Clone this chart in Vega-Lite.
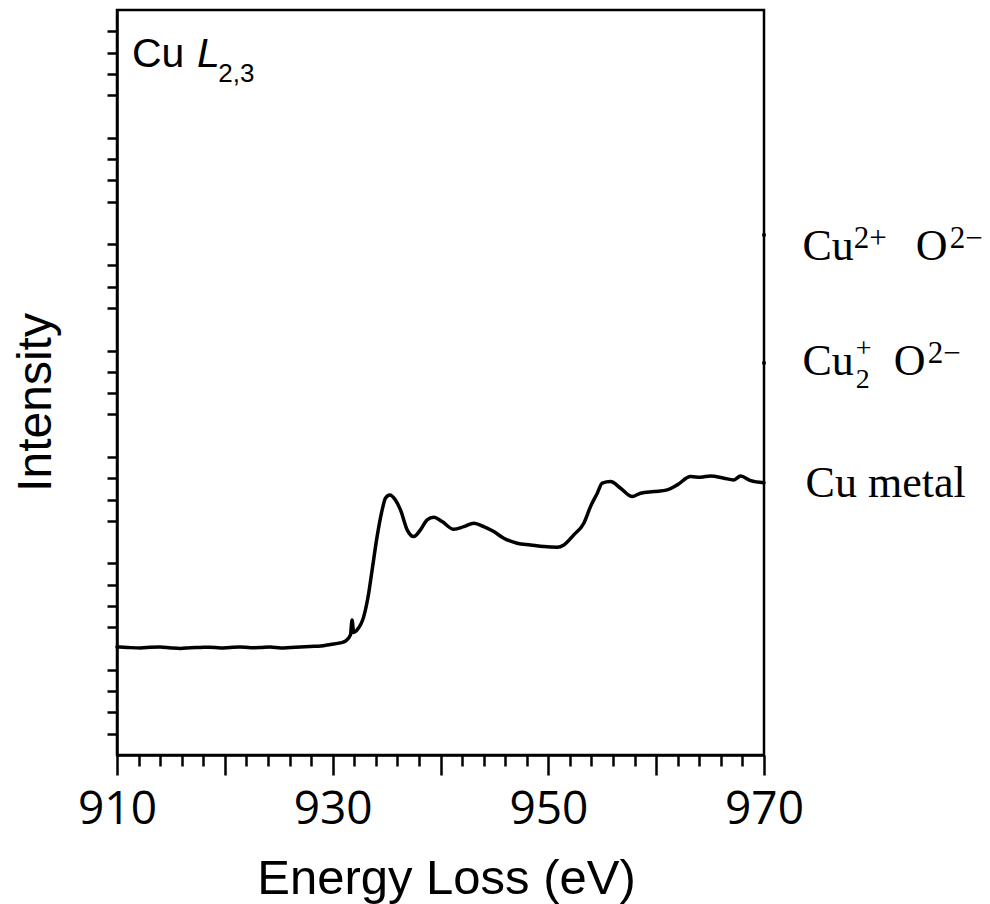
{
  "$schema": "https://vega.github.io/schema/vega-lite/v6.json",
  "width": 647,
  "height": 745,
  "autosize": "none",
  "padding": {"left": 117, "top": 10, "right": 226, "bottom": 149},
  "background": "white",
  "config": {
    "view": {"stroke": "black", "strokeWidth": 2.5},
    "axis": {
      "domainColor": "black",
      "domainWidth": 2.5,
      "tickColor": "black",
      "tickWidth": 2.5,
      "grid": false,
      "labelColor": "black",
      "titleColor": "black"
    }
  },
  "datasets": {
    "spectrum": [
      {"E": 910.0, "I": 1.015}, {"E": 911.0, "I": 1.010}, {"E": 912.2, "I": 1.006},
      {"E": 913.1, "I": 1.012}, {"E": 914.0, "I": 1.015}, {"E": 915.0, "I": 1.006},
      {"E": 915.9, "I": 1.001}, {"E": 916.8, "I": 1.008}, {"E": 917.7, "I": 1.010},
      {"E": 918.6, "I": 1.013}, {"E": 919.6, "I": 1.006}, {"E": 920.5, "I": 1.011},
      {"E": 921.4, "I": 1.015}, {"E": 922.4, "I": 1.008}, {"E": 923.3, "I": 1.010},
      {"E": 924.2, "I": 1.014}, {"E": 925.2, "I": 1.006}, {"E": 926.1, "I": 1.011},
      {"E": 927.0, "I": 1.015}, {"E": 927.9, "I": 1.020}, {"E": 928.9, "I": 1.024},
      {"E": 929.8, "I": 1.039}, {"E": 930.7, "I": 1.053}, {"E": 931.2, "I": 1.071},
      {"E": 931.65, "I": 1.128}, {"E": 931.8, "I": 1.269}, {"E": 931.95, "I": 1.150},
      {"E": 932.27, "I": 1.175}, {"E": 932.88, "I": 1.300}, {"E": 933.34, "I": 1.520},
      {"E": 933.66, "I": 1.739}, {"E": 934.12, "I": 2.052}, {"E": 934.59, "I": 2.303},
      {"E": 934.89, "I": 2.413}, {"E": 935.29, "I": 2.444}, {"E": 935.82, "I": 2.397},
      {"E": 936.29, "I": 2.303}, {"E": 936.91, "I": 2.115}, {"E": 937.52, "I": 2.052},
      {"E": 938.14, "I": 2.115}, {"E": 938.76, "I": 2.209}, {"E": 939.37, "I": 2.234},
      {"E": 940.15, "I": 2.193}, {"E": 941.23, "I": 2.121}, {"E": 942.16, "I": 2.146},
      {"E": 943.09, "I": 2.178}, {"E": 944.01, "I": 2.146}, {"E": 944.94, "I": 2.099},
      {"E": 945.87, "I": 2.037}, {"E": 947.11, "I": 1.990}, {"E": 948.35, "I": 1.974},
      {"E": 949.58, "I": 1.958}, {"E": 950.82, "I": 1.952}, {"E": 951.44, "I": 1.974},
      {"E": 952.36, "I": 2.068}, {"E": 953.29, "I": 2.178}, {"E": 953.91, "I": 2.334},
      {"E": 954.54, "I": 2.460}, {"E": 955.0, "I": 2.554}, {"E": 955.77, "I": 2.569},
      {"E": 956.7, "I": 2.507}, {"E": 957.78, "I": 2.428}, {"E": 958.55, "I": 2.460},
      {"E": 959.79, "I": 2.475}, {"E": 961.03, "I": 2.491}, {"E": 961.96, "I": 2.538},
      {"E": 963.19, "I": 2.616}, {"E": 964.12, "I": 2.610}, {"E": 965.05, "I": 2.622},
      {"E": 966.28, "I": 2.601}, {"E": 967.21, "I": 2.585}, {"E": 967.83, "I": 2.622},
      {"E": 968.76, "I": 2.578}, {"E": 970.0, "I": 2.559}
    ],
    "traceEnds": [
      {"E": 970.0, "I": 4.887},
      {"E": 970.0, "I": 3.684}
    ],
    "phases": [
      {"E": 973.56, "I": 4.652, "piece": "Cu", "role": "main"},
      {"E": 978.32, "I": 4.765, "piece": "2+", "role": "script"},
      {"E": 984.07, "I": 4.652, "piece": "O", "role": "main"},
      {"E": 987.22, "I": 4.765, "piece": "2−", "role": "script"},
      {"E": 973.56, "I": 3.571, "piece": "Cu", "role": "main"},
      {"E": 978.5, "I": 3.449, "piece": "2", "role": "stack"},
      {"E": 978.5, "I": 3.741, "piece": "+", "role": "stack"},
      {"E": 982.03, "I": 3.571, "piece": "O", "role": "main"},
      {"E": 985.19, "I": 3.681, "piece": "2−", "role": "script"},
      {"E": 973.86, "I": 2.425, "piece": "Cu metal", "role": "main"}
    ],
    "edgeName": [
      {"E": 911.39, "I": 6.469, "part": "Cu", "kind": "element"},
      {"E": 917.42, "I": 6.469, "part": "L", "kind": "edge"},
      {"E": 919.4, "I": 6.325, "part": "2,3", "kind": "sub"}
    ]
  },
  "encoding": {
    "x": {
      "field": "E",
      "type": "quantitative",
      "scale": {"domain": [910, 970], "nice": false, "zero": false},
      "axis": {
        "values": [910, 912, 914, 916, 918, 920, 922, 924, 926, 928, 930, 932, 934, 936, 938, 940, 942, 944, 946, 948, 950, 952, 954, 956, 958, 960, 962, 964, 966, 968, 970],
        "tickSize": {"condition": {"test": "datum.value % 10 === 0", "value": 20}, "value": 11},
        "labelExpr": "datum.value % 20 === 10 ? datum.label : ''",
        "labelFont": "Open Sans",
        "labelFontSize": 46,
        "labelPadding": 12,
        "labelFlush": false,
        "labelOverlap": false,
        "title": "Energy Loss (eV)",
        "titleFont": "Liberation Sans",
        "titleFontSize": 49,
        "titleFontWeight": "normal",
        "titleX": 329,
        "titleY": 138,
        "titleAlign": "center",
        "titleBaseline": "alphabetic"
      }
    },
    "y": {
      "field": "I",
      "type": "quantitative",
      "scale": {"domain": [0, 7], "nice": false, "zero": false},
      "axis": {
        "values": [0.2, 0.4, 0.6, 0.8, 1.2, 1.4, 1.6, 1.8, 2.2, 2.4, 2.6, 2.8, 3.2, 3.4, 3.6, 3.8, 4.2, 4.4, 4.6, 4.8, 5.2, 5.4, 5.6, 5.8, 6.2, 6.4, 6.6, 6.8],
        "labels": false,
        "tickSize": 10,
        "title": "Intensity",
        "titleFont": "Liberation Sans",
        "titleFontSize": 48,
        "titleFontWeight": "normal",
        "titleAngle": 270,
        "titleX": -67,
        "titleY": 392,
        "titleAlign": "center",
        "titleBaseline": "alphabetic"
      }
    }
  },
  "layer": [
    {
      "data": {"name": "spectrum"},
      "mark": {"type": "line", "color": "black", "strokeWidth": 3.5, "strokeJoin": "round", "strokeCap": "round", "interpolate": "monotone"}
    },
    {
      "data": {"name": "traceEnds"},
      "mark": {"type": "point", "filled": true, "color": "black", "size": 16, "opacity": 1}
    },
    {
      "data": {"name": "phases"},
      "transform": [{"filter": "datum.role === 'main'"}],
      "mark": {"type": "text", "align": "left", "baseline": "alphabetic", "font": "Liberation Serif", "fontSize": 44, "color": "black"},
      "encoding": {"text": {"field": "piece"}}
    },
    {
      "data": {"name": "phases"},
      "transform": [{"filter": "datum.role === 'script'"}],
      "mark": {"type": "text", "align": "left", "baseline": "alphabetic", "font": "Liberation Serif", "fontSize": 31, "color": "black"},
      "encoding": {"text": {"field": "piece"}}
    },
    {
      "data": {"name": "phases"},
      "transform": [{"filter": "datum.role === 'stack'"}],
      "mark": {"type": "text", "align": "left", "baseline": "alphabetic", "font": "Liberation Serif", "fontSize": 28, "color": "black"},
      "encoding": {"text": {"field": "piece"}}
    },
    {
      "data": {"name": "edgeName"},
      "transform": [{"filter": "datum.kind === 'element'"}],
      "mark": {"type": "text", "align": "left", "baseline": "alphabetic", "font": "Liberation Sans", "fontSize": 41, "color": "black"},
      "encoding": {"text": {"field": "part"}}
    },
    {
      "data": {"name": "edgeName"},
      "transform": [{"filter": "datum.kind === 'edge'"}],
      "mark": {"type": "text", "align": "left", "baseline": "alphabetic", "font": "Liberation Sans", "fontSize": 41, "fontStyle": "italic", "color": "black"},
      "encoding": {"text": {"field": "part"}}
    },
    {
      "data": {"name": "edgeName"},
      "transform": [{"filter": "datum.kind === 'sub'"}],
      "mark": {"type": "text", "align": "left", "baseline": "alphabetic", "font": "Liberation Sans", "fontSize": 26, "color": "black"},
      "encoding": {"text": {"field": "part"}}
    }
  ]
}
